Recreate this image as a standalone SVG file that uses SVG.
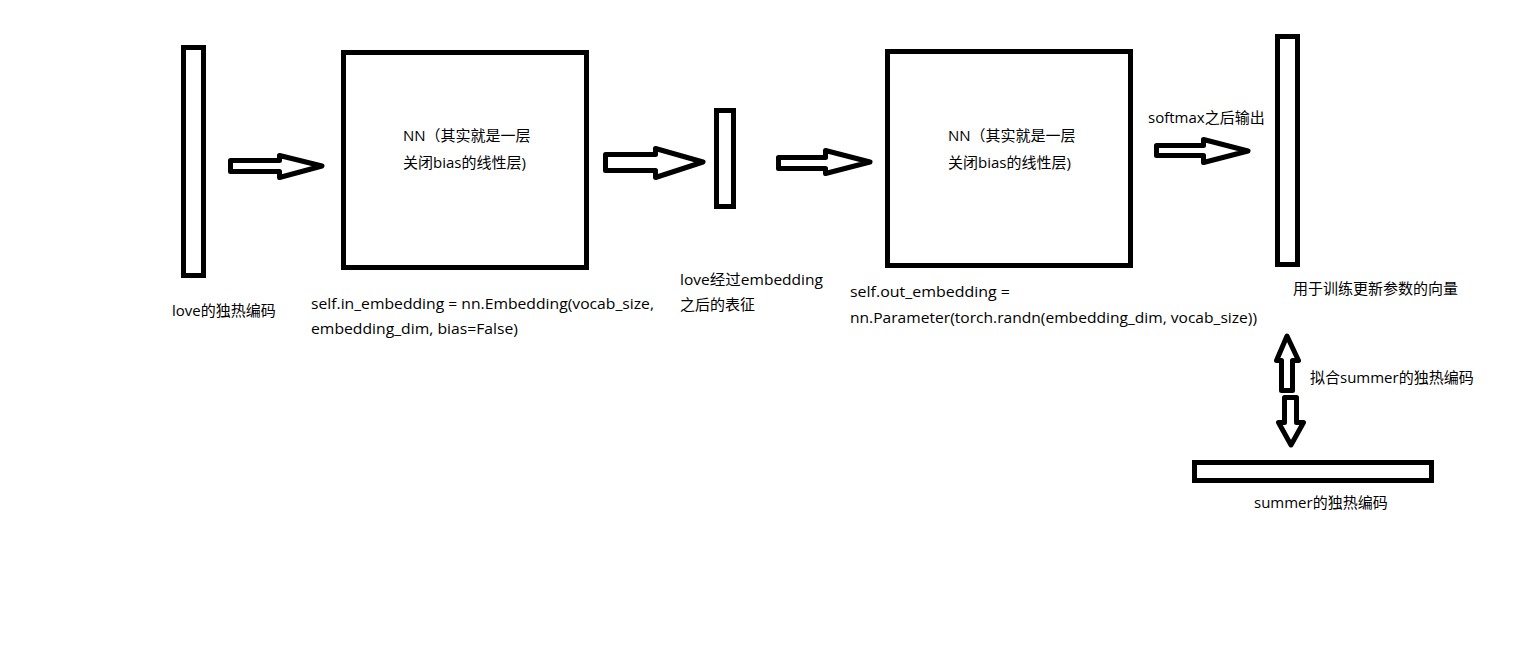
<svg xmlns="http://www.w3.org/2000/svg" width="1514" height="648" viewBox="0 0 1514 648">
<style>
.box{fill:#fff;stroke:#000;stroke-width:5}
.arr{fill:#fff;stroke:#000;stroke-width:5;stroke-linejoin:round}
text{font-family:"Open Sans","Noto Sans CJK SC",sans-serif;font-size:15px;fill:#000}
</style>
<rect width="1514" height="648" fill="#fff"/>
<g id="love-onehot">
<rect class="box" x="183.5" y="47.5" width="20" height="228"/>
<text x="172" y="316">love的独热编码</text>
</g>
<g id="nn-in">
<rect class="box" x="343.5" y="52.5" width="243" height="215"/>
<text x="403" y="141">NN（其实就是一层</text>
<text x="403" y="168">关闭bias的线性层)</text>
<text x="311" y="309" textLength="343" lengthAdjust="spacingAndGlyphs">self.in_embedding = nn.Embedding(vocab_size,</text>
<text x="311" y="334" textLength="207" lengthAdjust="spacingAndGlyphs">embedding_dim, bias=False)</text>
</g>
<g id="embedding">
<rect class="box" x="716.5" y="110.5" width="17" height="96"/>
<text x="680" y="285" textLength="143" lengthAdjust="spacingAndGlyphs">love经过embedding</text>
<text x="680" y="310">之后的表征</text>
</g>
<g id="nn-out">
<rect class="box" x="887.5" y="51.5" width="243" height="214"/>
<text x="948" y="141">NN（其实就是一层</text>
<text x="948" y="168">关闭bias的线性层)</text>
<text x="850" y="297" textLength="160" lengthAdjust="spacingAndGlyphs">self.out_embedding =</text>
<text x="850" y="323" textLength="407" lengthAdjust="spacingAndGlyphs">nn.Parameter(torch.randn(embedding_dim, vocab_size))</text>
</g>
<g id="output">
<rect class="box" x="1277.5" y="36.5" width="20" height="228"/>
<text x="1293" y="294">用于训练更新参数的向量</text>
</g>
<g id="summer-onehot">
<rect class="box" x="1194.5" y="462.5" width="237" height="18"/>
<text x="1254" y="508">summer的独热编码</text>
</g>
<g id="connectors">
<polygon class="arr" points="230.5,160.5 279.5,160.5 279.5,155.5 322,166 279.5,177.5 279.5,171.5 230.5,171.5"/>
<polygon class="arr" points="605.5,154.5 655.5,154.5 655.5,148.5 703,162 655.5,177.5 655.5,170.5 605.5,170.5"/>
<polygon class="arr" points="778.5,157.5 825.5,157.5 825.5,150.5 870,162 825.5,173.5 825.5,168.5 778.5,168.5"/>
<polygon class="arr" points="1156.5,145.5 1203.5,145.5 1203.5,139.5 1248,151 1203.5,162.5 1203.5,155.5 1156.5,155.5"/>
<text x="1148" y="123">softmax之后输出</text>
<polygon class="arr" points="1287,336 1298.5,360.5 1292.5,360.5 1292.5,390.5 1281.5,390.5 1281.5,360.5 1276.5,360.5"/>
<polygon class="arr" points="1284.5,397.5 1296.5,397.5 1296.5,422.5 1303.5,422.5 1291,445 1278.5,422.5 1284.5,422.5"/>
<text x="1310" y="383">拟合summer的独热编码</text>
</g>
</svg>
